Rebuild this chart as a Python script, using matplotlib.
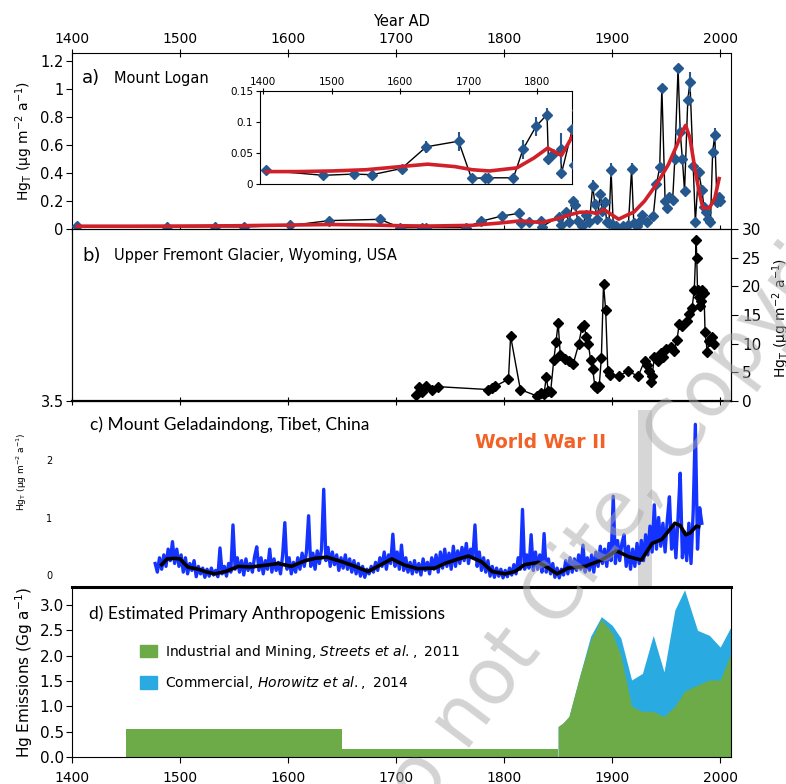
import matplotlib.pyplot as plt
from matplotlib.patches import Patch

# a) Mount Logan, Hg_T flux (ug m-2 a-1)
logan_years = [1405, 1488, 1532, 1559, 1602, 1638, 1685, 1704, 1724, 1728, 1765, 1779, 1798,
               1814, 1816, 1823, 1834, 1835, 1851, 1853, 1857, 1860, 1864, 1866, 1868, 1872,
               1876, 1879, 1882, 1884, 1886, 1889, 1891, 1893, 1895, 1897, 1899, 1901, 1904,
               1910, 1915, 1918, 1920, 1923, 1926, 1928, 1932, 1938, 1941, 1944, 1946, 1949,
               1951, 1953, 1956, 1958, 1961, 1963, 1965, 1967, 1970, 1972, 1975, 1977, 1980,
               1983, 1985, 1987, 1989, 1991, 1993, 1995, 1997, 1999, 2000]
logan_hg = [0.022, 0.014, 0.016, 0.015, 0.025, 0.060, 0.069, 0.009, 0.010, 0.010, 0.010, 0.056, 0.093,
            0.112, 0.040, 0.048, 0.057, 0.017, 0.089, 0.03, 0.12, 0.05, 0.20, 0.17, 0.06, 0.02,
            0.10, 0.05, 0.31, 0.18, 0.07, 0.25, 0.13, 0.19, 0.05, 0.04, 0.42, 0.03, 0.02,
            0.02, 0.03, 0.43, 0.04, 0.02, 0.06, 0.10, 0.05, 0.09, 0.32, 0.44, 1.01, 0.20,
            0.15, 0.23, 0.21, 0.50, 1.15, 0.69, 0.50, 0.27, 0.92, 1.05, 0.45, 0.05, 0.41,
            0.28, 0.16, 0.12, 0.07, 0.05, 0.55, 0.67, 0.19, 0.23, 0.20]
logan_err = [0, 0, 0, 0, 0, 0.01, 0.015, 0, 0, 0, 0, 0.015, 0.015,
             0.01, 0, 0, 0.025, 0, 0, 0, 0.02, 0, 0.03, 0, 0, 0,
             0, 0, 0.04, 0, 0, 0.03, 0, 0, 0, 0, 0.05, 0, 0,
             0, 0, 0.04, 0, 0, 0, 0, 0, 0, 0, 0.04, 0, 0,
             0, 0, 0, 0, 0, 0.06, 0, 0, 0, 0.07, 0, 0, 0,
             0, 0, 0, 0, 0, 0, 0.05, 0, 0, 0]
logan_fit_years = [1405, 1450, 1500, 1550, 1600, 1640, 1680, 1705, 1730, 1770, 1795, 1815, 1835,
                   1850, 1860, 1870, 1880, 1886, 1892, 1898, 1906, 1914, 1920, 1930, 1942, 1952,
                   1960, 1965, 1968, 1972, 1977, 1981, 1984, 1990, 1995, 1999]
logan_fit_hg = [0.020, 0.020, 0.021, 0.023, 0.028, 0.032, 0.028, 0.023, 0.021, 0.026, 0.042, 0.058, 0.046,
                0.075, 0.10, 0.12, 0.12, 0.11, 0.14, 0.11, 0.07, 0.10, 0.12, 0.20, 0.33, 0.46,
                0.60, 0.70, 0.74, 0.65, 0.41, 0.25, 0.15, 0.15, 0.22, 0.36]

# b) Upper Fremont Glacier
fremont_years = [1718, 1721, 1724, 1728, 1733, 1739, 1785, 1789, 1792, 1804, 1806, 1815, 1830,
                 1834, 1837, 1839, 1841, 1843, 1846, 1848, 1850, 1852, 1856, 1860, 1864, 1869,
                 1872, 1874, 1876, 1878, 1880, 1882, 1884, 1886, 1888, 1890, 1892, 1894, 1896,
                 1898, 1906, 1915, 1924, 1930, 1932, 1934, 1936, 1937, 1939, 1942, 1945, 1947,
                 1950, 1954, 1957, 1960, 1962, 1965, 1969, 1971, 1974, 1976, 1977.8, 1978.3,
                 1979, 1980, 1981, 1982, 1983, 1985, 1986, 1988, 1990, 1992, 1994]
fremont_hg = [1.1, 2.5, 1.5, 2.6, 2.0, 2.5, 2.0, 2.2, 2.6, 3.8, 11.3, 2.0, 0.9,
              1.4, 1.3, 4.2, 1.7, 1.6, 7.2, 10.3, 13.6, 8.0, 7.4, 7.0, 6.5, 9.9,
              12.9, 13.3, 11.2, 9.9, 7.2, 5.5, 2.6, 2.3, 2.6, 7.5, 20.4, 15.8, 5.2,
              4.6, 4.4, 5.2, 4.3, 7.0, 6.3, 5.3, 3.4, 4.3, 7.7, 6.9, 8.3, 7.7,
              9.0, 9.4, 8.8, 10.6, 13.4, 13.0, 14.0, 15.2, 16.3, 19.4, 28.0, 24.9,
              19.4, 18.1, 16.5, 17.5, 19.4, 18.9, 12.0, 8.6, 10.5, 11.2, 10.0]

# c) Mount Geladaindong, one value every second year from 1477 to 1983
gela_years = list(range(1477, 1984, 2))
gela_hg = [0.20, 0.05, 0.30, 0.10, 0.35, 0.15, 0.45, 0.25, 0.58, 0.20,    # 1477
           0.45, 0.15, 0.35, 0.05, 0.30, 0.02, 0.20, 0.08, 0.25, -0.03,   # 1497
           0.15, 0.02, 0.12, -0.04, 0.10, -0.02, 0.12, 0.00, 0.08, -0.03,  # 1517
           0.47, 0.02, 0.15, -0.02, 0.20, 0.05, 0.87, 0.10, 0.30, 0.05,   # 1537
           0.25, 0.00, 0.28, 0.08, 0.20, 0.05, 0.32, 0.49, 0.08, 0.30,    # 1557
           0.02, 0.25, 0.10, 0.45, 0.05, 0.28, 0.08, 0.22, 0.02, 0.35,    # 1577
           0.91, 0.10, 0.30, 0.02, 0.22, 0.05, 0.30, 0.10, 0.38, 0.15,    # 1597
           0.40, 1.03, 0.15, 0.38, 0.10, 0.42, 0.20, 0.45, 1.49, 0.25,    # 1617
           0.48, 0.15, 0.40, 0.18, 0.35, 0.08, 0.30, 0.12, 0.35, 0.10,    # 1637
           0.28, 0.05, 0.25, 0.02, 0.20, -0.02, 0.15, -0.04, 0.10, 0.02,  # 1657
           0.15, 0.05, 0.22, 0.08, 0.30, 0.15, 0.40, 0.10, 0.35, 0.20,    # 1677
           0.71, 0.15, 0.40, 0.10, 0.52, 0.08, 0.30, 0.05, 0.22, 0.02,    # 1697
           0.25, 0.05, 0.20, 0.00, 0.28, 0.08, 0.22, 0.02, 0.30, 0.10,    # 1717
           0.35, 0.05, 0.40, 0.12, 0.45, 0.15, 0.38, 0.10, 0.50, 0.15,    # 1737
           0.42, 0.20, 0.48, 0.25, 0.55, 0.20, 0.45, 0.30, 0.87, 0.15,    # 1757
           0.40, 0.08, 0.30, 0.05, 0.25, -0.02, 0.15, -0.04, 0.12, -0.02,  # 1777
           0.10, -0.05, 0.08, -0.03, 0.12, 0.00, 0.18, 0.02, 0.30, 0.10,  # 1797
           1.14, 0.10, 0.35, 0.12, 0.70, 0.08, 0.40, 0.10, 0.35, 0.05,    # 1817
           0.72, 0.05, 0.28, 0.02, 0.20, -0.04, 0.12, -0.05, 0.10, 0.00,  # 1837
           0.25, 0.02, 0.30, 0.05, 0.28, 0.08, 0.35, 0.10, 0.52, 0.05,    # 1857
           0.30, 0.08, 0.35, 0.05, 0.40, 0.15, 0.50, 0.20, 0.45, 0.15,    # 1877
           0.55, 0.25, 1.37, 0.20, 0.60, 0.25, 0.55, 0.70, 0.15, 0.50,    # 1897
           0.10, 0.45, 0.15, 0.55, 0.20, 0.60, 0.25, 0.70, 0.35, 0.85,    # 1917
           0.40, 1.22, 0.45, 1.00, 0.50, 0.90, 0.40, 0.95, 1.36, 0.45,    # 1937
           0.85, 0.30, 1.00, 1.77, 0.30, 0.75, 0.25, 0.90, 0.20, 1.10,    # 1957
           2.62, 0.45, 1.17, 0.90]                                        # 1977
gela_fit_years = [1483, 1488, 1495, 1500, 1507, 1517, 1525, 1532, 1542, 1554, 1566, 1579, 1591,
                  1603, 1616, 1625, 1636, 1650, 1662, 1674, 1683, 1696, 1708, 1720, 1736, 1745,
                  1756, 1767, 1779, 1789, 1801, 1810, 1819, 1832, 1841, 1849, 1859, 1875, 1890,
                  1904, 1915, 1927, 1937, 1946, 1958, 1963, 1968, 1972, 1978, 1980]
gela_fit_hg = [0.18, 0.28, 0.29, 0.28, 0.14, 0.10, 0.05, 0.02, 0.06, 0.15, 0.14, 0.17, 0.20,
               0.15, 0.25, 0.29, 0.31, 0.23, 0.15, 0.06, 0.15, 0.28, 0.17, 0.11, 0.12, 0.20,
               0.27, 0.33, 0.23, 0.06, 0.02, 0.06, 0.18, 0.22, 0.12, 0.02, 0.12, 0.15, 0.26,
               0.42, 0.32, 0.26, 0.55, 0.62, 0.90, 0.86, 0.70, 0.73, 0.85, 0.84]
wwii_band = (1924, 1937)

# d) Estimated primary anthropogenic emissions (Gg a-1)
early_years = [1450, 1450, 1650, 1650, 1850]
early_industrial = [0, 0.55, 0.55, 0.15, 0.15]
emis_years = [1850, 1855, 1860, 1870, 1880, 1890, 1900, 1908, 1918, 1928, 1938, 1948, 1958,
              1967, 1979, 1990, 2000, 2010]
industrial = [0.60, 0.68, 0.80, 1.60, 2.30, 2.72, 2.45, 2.00, 1.00, 0.90, 0.90, 0.80, 1.00,
              1.30, 1.42, 1.52, 1.52, 2.05]
commercial = [0, 0, 0, 0, 0.08, 0.05, 0.15, 0.35, 0.52, 0.75, 1.50, 0.88, 1.90,
              2.00, 1.08, 0.88, 0.65, 0.52]

plt.rcParams['font.family'] = ['DejaVu Sans']
plt.rcParams['mathtext.fontset'] = 'dejavusans'

W, H = 786, 784
fig = plt.figure(figsize=(W / 100, H / 100), dpi=100)


def rect(left, top, right, bottom):
    return [left / W, 1 - bottom / H, (right - left) / W, (bottom - top) / H]


def label(x, y, s, **kw):
    fig.text(x / W, 1 - y / H, s, **kw)


BLUE = '#24588f'
RED = '#d0202a'
GREEN = '#6cab48'
CYAN = '#29abe2'
decades = list(range(1400, 2001, 100))
hg_label = r'Hg$_\mathrm{T}$ ($\mathrm{\mu}$g m$^{-2}$ a$^{-1}$)'

# ---- panel a
ax_a = fig.add_axes(rect(72, 53, 731, 229))
ax_a.plot(logan_years, logan_hg, color='black', lw=1, zorder=2, clip_on=False)
ax_a.errorbar(logan_years, logan_hg, yerr=logan_err, fmt='D', ms=5.5, color=BLUE,
              elinewidth=1.5, capsize=0, zorder=3, clip_on=False)
ax_a.plot(logan_fit_years, logan_fit_hg, color=RED, lw=2.6, zorder=4)
ax_a.set_xlim(1400, 2010)
ax_a.set_ylim(0, 1.257)
ax_a.set_xticks(decades)
ax_a.tick_params(axis='x', top=True, bottom=True, labeltop=True, labelbottom=False,
                 direction='inout', length=6, labelsize=10, pad=2)
ax_a.xaxis.set_label_position('top')
ax_a.set_xlabel('Year AD', fontsize=10.5, labelpad=4)
ax_a.set_yticks([0, 0.2, 0.4, 0.6, 0.8, 1, 1.2])
ax_a.set_yticklabels(['0', '0.2', '0.4', '0.6', '0.8', '1', '1.2'])
ax_a.tick_params(axis='y', direction='out', length=4, labelsize=10.5, pad=2)
ax_a.set_ylabel(hg_label, fontsize=10, labelpad=4)
label(82, 78, 'a)', fontsize=13, va='center')
label(114, 78, 'Mount Logan', fontsize=10.5, va='center')

# inset
ax_in = fig.add_axes(rect(260, 91, 572, 184))
ax_in.plot(logan_years, logan_hg, color='black', lw=1, zorder=2)
ax_in.errorbar(logan_years, logan_hg, yerr=logan_err, fmt='D', ms=5, color=BLUE,
               elinewidth=1.5, capsize=0, zorder=3)
ax_in.plot(logan_fit_years, logan_fit_hg, color=RED, lw=2.6, zorder=4)
ax_in.set_xlim(1395.6, 1850.4)
ax_in.set_ylim(0, 0.15)
ax_in.set_xticks(decades[:5])
ax_in.tick_params(axis='x', top=True, bottom=False, labeltop=True, labelbottom=False,
                  direction='inout', length=4, labelsize=7.5, pad=1)
ax_in.set_yticks([0, 0.05, 0.1, 0.15])
ax_in.set_yticklabels(['0', '0.05', '0.1', '0.15'])
ax_in.tick_params(axis='y', direction='out', length=3, labelsize=7.5, pad=2)

# ---- panel b
ax_b = fig.add_axes(rect(72, 229, 731, 401))
ax_b_left = ax_b.twinx()
ax_b_left.yaxis.set_ticks_position('left')
ax_b_left.set_ylim(3.5, 10)
ax_b_left.set_yticks([3.5])
ax_b_left.tick_params(axis='y', direction='out', length=4, labelsize=10.5, pad=2)
ax_b.plot(fremont_years, fremont_hg, '-D', color='black', lw=1, ms=5.5, clip_on=False)
ax_b.set_xlim(1400, 2010)
ax_b.set_ylim(0, 30)
ax_b.set_xticks(decades)
ax_b.tick_params(axis='x', labelbottom=False, direction='inout', length=6)
ax_b.yaxis.tick_right()
ax_b.set_yticks(range(0, 31, 5))
ax_b.tick_params(axis='y', direction='out', length=5, labelsize=11, pad=3)
ax_b.spines['bottom'].set_linewidth(1.6)
label(82, 256, 'b)', fontsize=13, va='center')
label(114, 256, 'Upper Fremont Glacier, Wyoming, USA', fontsize=10.5, va='center')
label(781, 318, hg_label, fontsize=10, rotation=90, ha='center', va='center')

# ---- panel c
ax_c = fig.add_axes(rect(72, 410, 731, 587))
ax_c.patch.set_alpha(0)
ax_c.axvspan(*wwii_band, color='#d6d6d6', lw=0, zorder=0)
ax_c.plot(gela_years, gela_hg, color='#1533ff', lw=2.4, zorder=2)
ax_c.plot(gela_fit_years, gela_fit_hg, color='black', lw=2.6, zorder=3)
ax_c.set_xlim(1400, 2010)
ax_c.set_ylim(-0.2087, 2.87)
for s in ax_c.spines.values():
    s.set_visible(False)
ax_c.set_xticks([])
ax_c.set_yticks([0, 1, 2])
ax_c.tick_params(axis='y', length=0, labelsize=7, pad=14)
label(22, 472, hg_label, fontsize=6.5, rotation=90, ha='center', va='center')
label(90, 425, 'c) Mount Geladaindong, Tibet, China', fontsize=12.5, va='center',
      family=['Lato', 'DejaVu Sans'])
label(475, 443, 'World War II', fontsize=13.5, weight='bold', color='#f26226', va='center')

# ---- panel d
ax_d = fig.add_axes(rect(72, 587, 731, 757))
total = [i + c for i, c in zip(industrial, commercial)]
ax_d.fill_between(emis_years, 0, total, color=CYAN, lw=0)
ax_d.fill_between(early_years, 0, early_industrial, color=GREEN, lw=0)
ax_d.fill_between(emis_years, 0, industrial, color=GREEN, lw=0)
ax_d.set_xlim(1400, 2010)
ax_d.set_ylim(0, 3.355)
ax_d.set_xticks(decades)
ax_d.set_yticks([0, 0.5, 1, 1.5, 2, 2.5, 3])
ax_d.set_yticklabels(['0.0', '0.5', '1.0', '1.5', '2.0', '2.5', '3.0'])
ax_d.tick_params(axis='x', direction='out', length=4, labelsize=10, pad=6)
ax_d.tick_params(axis='y', direction='out', length=4, labelsize=11, pad=2)
ax_d.spines['top'].set_linewidth(2.2)
ax_d.set_ylabel(r'Hg Emissions (Gg a$^{-1}$)', fontsize=11, labelpad=3)
label(89, 614, 'd) Estimated Primary Anthropogenic Emissions', fontsize=12.5, va='center',
      family=['Lato', 'DejaVu Sans'])
ax_d.legend([Patch(color=GREEN), Patch(color=CYAN)],
            [r'Industrial and Mining, $\it{Streets\ et\ al.,\ 2011}$',
             r'Commercial, $\it{Horowitz\ et\ al.,\ 2014}$'],
            loc='upper left', bbox_to_anchor=(140 / W, 1 - 643 / H),
            bbox_transform=fig.transFigure, frameon=False, fontsize=10,
            handlelength=1.2, handleheight=1.0, handletextpad=0.6,
            labelspacing=0.95, borderpad=0, borderaxespad=0)

# watermark
fig.text(386 / W, 1 - 858 / H, 'Do not Cite, Copyright', fontsize=56, color='#a8a8a8',
         alpha=0.5, rotation=53, rotation_mode='anchor', ha='left', va='baseline')

fig.savefig('out.png', dpi=100)
